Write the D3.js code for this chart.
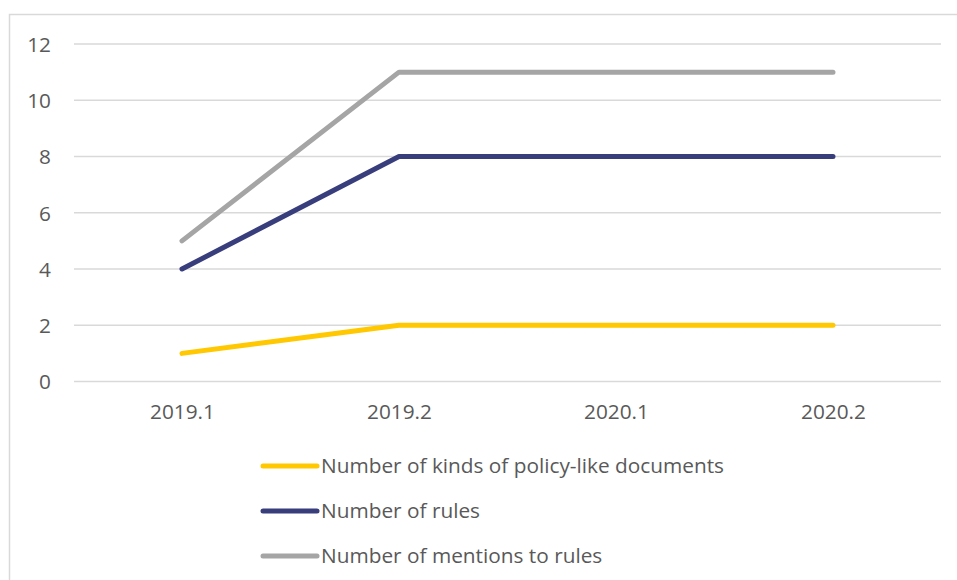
<!DOCTYPE html>
<html><head><meta charset="utf-8">
<script src="https://cdn.jsdelivr.net/npm/d3@7"></script>
<style>body{margin:0;background:#fff}svg{display:block}</style>
</head><body>
<svg id="c" width="957" height="580"></svg>
<script>
const categories = ["2019.1","2019.2","2020.1","2020.2"];
const seriesNames = ["Number of kinds of policy-like documents","Number of rules","Number of mentions to rules"];
const kindsDocs = [1,2,2,2];
const rules = [4,8,8,8];
const mentions = [5,11,11,11];
const yTicks = [0,2,4,6,8,10,12];
const colors = ["#FFC800","#383D7C","#A5A5A5"];

const svg = d3.select("#c");
const font = "'Open Sans', sans-serif";
const textColor = "#595959";
const fs = 20.8;

svg.append("rect").attr("x",9.5).attr("y",14.5).attr("width",1000).attr("height",1000)
  .attr("fill","none").attr("stroke","#d9d9d9").attr("stroke-width",1.5);

const x = d3.scalePoint().domain(categories).range([182,833]);
const y = d3.scaleLinear().domain([0,12]).range([381.5,44]);

const g = svg.append("g");
g.selectAll("line.grid").data(yTicks).join("line")
  .attr("x1",74).attr("x2",941).attr("y1",d=>y(d)).attr("y2",d=>y(d))
  .attr("stroke","#d9d9d9").attr("stroke-width",1.5);

const yAxis = d3.axisLeft(y).tickValues(yTicks).tickSize(0).tickPadding(0);
const ya = svg.append("g").attr("transform","translate(51,0)").call(yAxis);
ya.select(".domain").remove();
ya.selectAll("text").attr("font-family",font).attr("font-size",fs).attr("fill",textColor).attr("dy","0.35em");

const xAxis = d3.axisBottom(x).tickSize(0).tickPadding(0);
const xa = svg.append("g").attr("transform","translate(0,412)").call(xAxis);
xa.select(".domain").remove();
xa.selectAll("text").attr("font-family",font).attr("font-size",fs).attr("fill",textColor).attr("dy","0.35em");

const data = [kindsDocs, rules, mentions];
const line = d3.line().x((d,i)=>x(categories[i])).y(d=>y(d));
[2,1,0].forEach(k=>{
  svg.append("path").datum(data[k]).attr("d",line).attr("fill","none")
    .attr("stroke",colors[k]).attr("stroke-width",5).attr("stroke-linecap","round").attr("stroke-linejoin","round");
});

const ly = d3.scalePoint().domain(seriesNames).range([466,556]);
const lg = svg.append("g");
seriesNames.forEach((n,i)=>{
  lg.append("line").attr("x1",263).attr("x2",317).attr("y1",ly(n)).attr("y2",ly(n))
    .attr("stroke",colors[i]).attr("stroke-width",5).attr("stroke-linecap","round");
  lg.append("text").attr("x",321).attr("y",ly(n)).attr("dy","0.35em")
    .attr("font-family",font).attr("font-size",fs).attr("fill",textColor).text(n);
});
</script>
</body></html>
